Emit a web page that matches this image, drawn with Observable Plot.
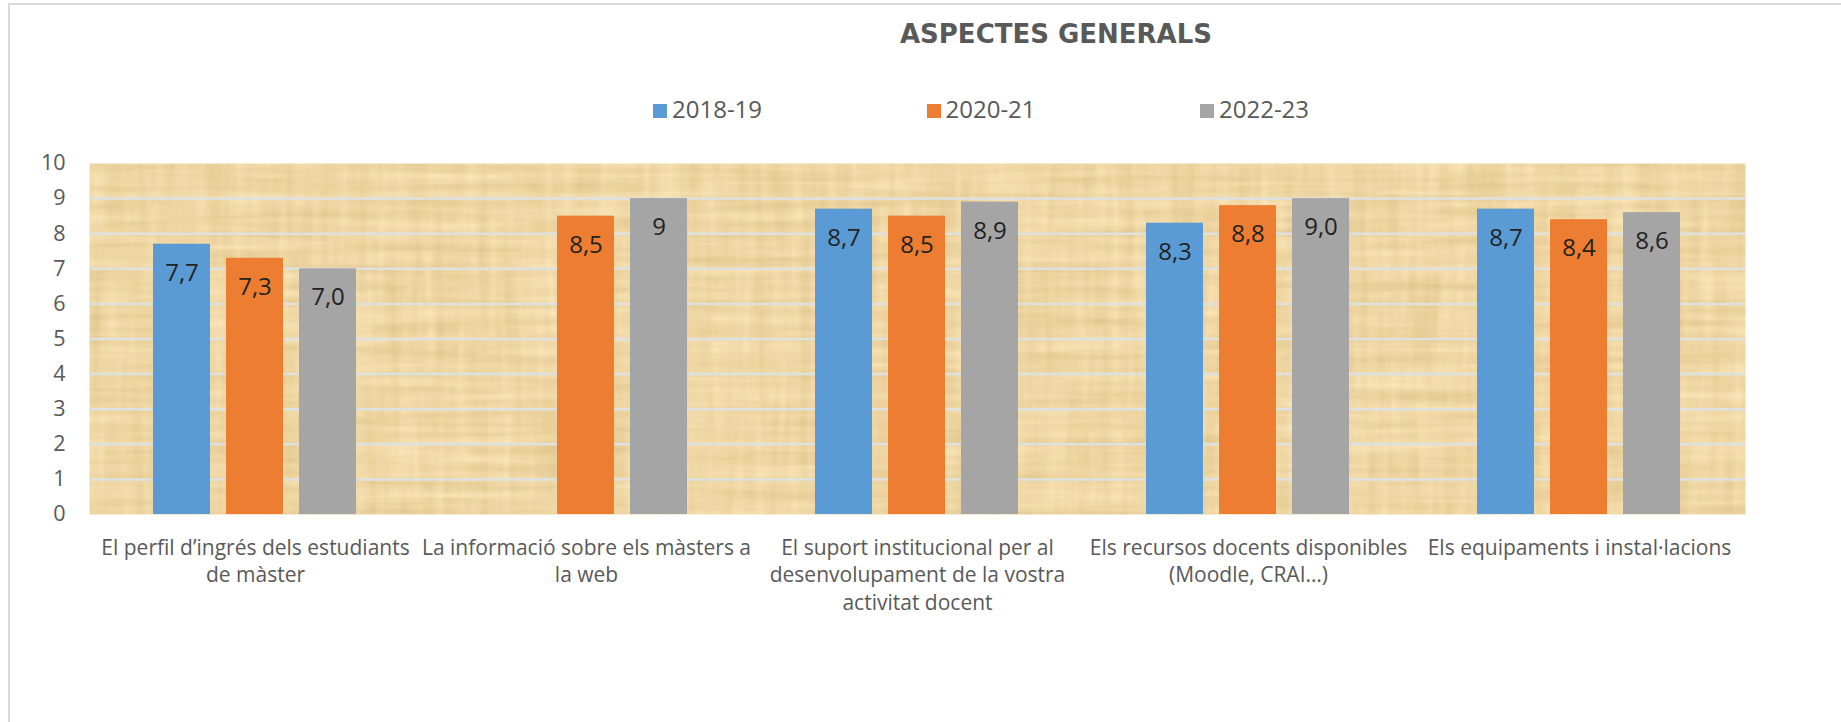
<!DOCTYPE html>
<html>
<head>
<meta charset="utf-8">
<script src="https://cdn.jsdelivr.net/npm/d3@7"></script>
<script src="https://cdn.jsdelivr.net/npm/@observablehq/plot@0.6"></script>
<style>
  html, body { margin: 0; padding: 0; background: #fff; }
  #wrap { position: relative; width: 1841px; height: 722px; overflow: hidden; }
  #border { position: absolute; left: 8px; top: 3px; width: 1900px; height: 800px;
            border-top: 2px solid #d9d9d9; border-left: 2px solid #d9d9d9; }
  #title { position: absolute; top: 21px; left: 1056px; transform: translateX(-50%);
           font-family: "DejaVu Sans", sans-serif; font-weight: bold; font-size: 26px;
           line-height: 26px; color: #595959; white-space: nowrap; }
  .item { position: absolute; top: 97px; height: 24px; font-family: "Open Sans", sans-serif;
          font-size: 24px; line-height: 24px; color: #595959; white-space: nowrap; }
  .item .sw { position: absolute; left: 0; top: 7px; width: 14px; height: 14px; }
  .item .lb { position: absolute; left: 19px; top: 0; }
  .layer { position: absolute; left: 0; top: 0; }
</style>
</head>
<body>
<div id="wrap">
  <div id="border"></div>
  <div id="title"></div>
  <div id="legend"></div>
  <div id="back" class="layer"></div>
  <div id="front" class="layer"></div>
</div>
<script>
const title = "ASPECTES GENERALS";
const categories = [
  "El perfil d\u2019ingrés dels estudiants\nde màster",
  "La informació sobre els màsters a\nla web",
  "El suport institucional per al\ndesenvolupament de la vostra\nactivitat docent",
  "Els recursos docents disponibles\n(Moodle, CRAI\u2026)",
  "Els equipaments i instal·lacions"
];
const series = ["2018-19", "2020-21", "2022-23"];
const colors = ["#5B9BD5", "#ED7D31", "#A5A5A5"];
const values2018 = [7.7, null, 8.7, 8.3, 8.7];
const values2020 = [7.3, 8.5, 8.5, 8.8, 8.4];
const values2022 = [7.0, 9.0, 8.9, 9.0, 8.6];
const labels2018 = ["7,7", null, "8,7", "8,3", "8,7"];
const labels2020 = ["7,3", "8,5", "8,5", "8,8", "8,4"];
const labels2022 = ["7,0", "9", "8,9", "9,0", "8,6"];
const yTicks = [0, 1, 2, 3, 4, 5, 6, 7, 8, 9, 10];
const gridValues = [1, 2, 3, 4, 5, 6, 7, 8, 9];

const allValues = [values2018, values2020, values2022];
const allLabels = [labels2018, labels2020, labels2022];
const rows = [];
categories.forEach((c, i) => {
  series.forEach((s, j) => {
    const v = allValues[j][i];
    if (v != null) rows.push({category: c, series: s, value: v, label: allLabels[j][i]});
  });
});

document.getElementById("title").textContent = title;
const legend = document.getElementById("legend");
series.forEach((s, j) => {
  const it = document.createElement("div");
  it.className = "item";
  it.style.left = (653 + j * 273.5) + "px";
  const sw = document.createElement("span");
  sw.className = "sw";
  sw.style.background = colors[j];
  const lb = document.createElement("span");
  lb.className = "lb";
  lb.textContent = s;
  it.appendChild(sw); it.appendChild(lb);
  legend.appendChild(it);
});

const common = {
  width: 1841,
  height: 722,
  marginTop: 163,
  marginBottom: 208,
  marginLeft: 89,
  marginRight: 96,
  style: {fontFamily: "'Open Sans', sans-serif", fontSize: "20px", color: "#595959", background: "transparent", overflow: "visible"},
  y: {domain: [0, 10], axis: null}
};

// background layer: textured plot area, gridlines, y tick labels
const PAPER = "#edd7a5";
const back = Plot.plot({
  ...common,
  marks: [
    Plot.frame({fill: PAPER, stroke: "none"}),
    Plot.ruleY(gridValues, {stroke: "#dde2e0", strokeWidth: 2.5}),
    Plot.text(yTicks, {y: d => d, text: d => String(d), frameAnchor: "left",
                       textAnchor: "end", dx: -24, fontSize: 21.5, fill: "#595959"})
  ]
});
document.getElementById("back").appendChild(back);

// front layer: grouped bars, value labels, category labels
const front = Plot.plot({
  ...common,
  fx: {domain: categories, paddingInner: 0.378, paddingOuter: 0.189, axis: null, label: null},
  x: {domain: series, paddingInner: 0.216, paddingOuter: 0, axis: null},
  color: {domain: series, range: colors},
  marks: [
    Plot.barY(rows, {fx: "category", x: "series", y: "value", fill: "series"}),
    Plot.text(rows, {fx: "category", x: "series", y: "value", text: "label", dy: 29,
                     fontSize: 24, fill: "#222"}),
    Plot.text(categories, {fx: d => d, text: d => d, frameAnchor: "bottom", lineAnchor: "top",
                           dy: 20.5, fontSize: 21, lineHeight: 1.31, fill: "#595959"})
  ]
});
document.getElementById("front").appendChild(front);

// papyrus-like texture for the plotting area
const NS = "http://www.w3.org/2000/svg";
const defs = document.createElementNS(NS, "defs");
defs.innerHTML = `
  <filter id="papyrus" x="0" y="0" width="100%" height="100%" color-interpolation-filters="sRGB">
    <feTurbulence type="fractalNoise" baseFrequency="0.006 0.11" numOctaves="3" seed="7" result="h"/>
    <feTurbulence type="fractalNoise" baseFrequency="0.09 0.008" numOctaves="2" seed="11" result="v"/>
    <feComposite in="h" in2="v" operator="arithmetic" k1="0" k2="0.55" k3="0.45" k4="0" result="n"/>
    <feColorMatrix in="n" type="matrix" values="0.16 0 0 0 0.855  0.2 0 0 0 0.74  0.28 0 0 0 0.5  0 0 0 0 1" result="c"/>
    <feComposite in="c" in2="SourceGraphic" operator="in"/>
  </filter>`;
back.insertBefore(defs, back.firstChild);
const frameG = back.querySelector('g[aria-label="frame"]') || back.querySelector('rect');
if (frameG) frameG.setAttribute("filter", "url(#papyrus)");
</script>
</body>
</html>
